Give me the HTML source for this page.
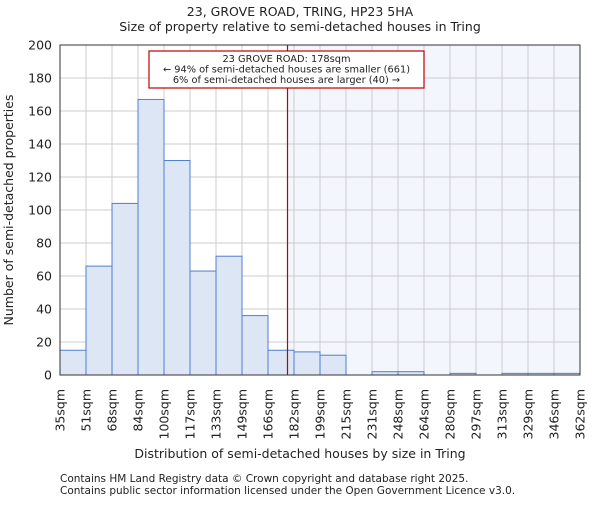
<!DOCTYPE html>
<html><head><meta charset="utf-8"><style>
body{margin:0;background:#fff}
text{font-family:"DejaVu Sans","Liberation Sans",sans-serif;fill:#222}
</style></head><body>
<svg id="c" width="600" height="500" viewBox="0 0 600 500">
<text x="300" y="16" font-size="12.5" text-anchor="middle">23, GROVE ROAD, TRING, HP23 5HA</text>
<text x="300" y="31" font-size="12.5" text-anchor="middle">Size of property relative to semi-detached houses in Tring</text>
<g id="grid"></g>
<g id="bars"></g>
<g id="axes"></g>
<text x="300" y="458" font-size="12.5" text-anchor="middle">Distribution of semi-detached houses by size in Tring</text>
<text transform="translate(13,210) rotate(-90)" font-size="12.5" text-anchor="middle">Number of semi-detached properties</text>
<text x="60" y="482" font-size="10.5" fill="#444">Contains HM Land Registry data © Crown copyright and database right 2025.</text>
<text x="60" y="494" font-size="10.5" fill="#444">Contains public sector information licensed under the Open Government Licence v3.0.</text>
</svg>
<script>
const categories=["35sqm","51sqm","68sqm","84sqm","100sqm","117sqm","133sqm","149sqm","166sqm","182sqm","199sqm","215sqm","231sqm","248sqm","264sqm","280sqm","297sqm","313sqm","329sqm","346sqm","362sqm"];
const edgeValues=[35,51,68,84,100,117,133,149,166,182,199,215,231,248,264,280,297,313,329,346,362];
const counts=[15,66,104,167,130,63,72,36,15,14,12,0,2,2,0,1,0,1,1,1];
const yTicks=[0,20,40,60,80,100,120,140,160,180,200];
const marker=178;
const X0=60,X1=580,Y0=375,Y1=45,NS="http://www.w3.org/2000/svg";
const bw=(X1-X0)/counts.length;
const xi=i=>X0+i*bw;
const y=v=>Y0-(v/200)*(Y0-Y1);
function xv(v){for(let i=0;i<edgeValues.length-1;i++){if(v<=edgeValues[i+1])return xi(i)+(v-edgeValues[i])/(edgeValues[i+1]-edgeValues[i])*bw;}return X1;}
function mk(t,a,p){const e=document.createElementNS(NS,t);for(const k in a)e.setAttribute(k,a[k]);p.appendChild(e);return e;}
const g=document.getElementById('grid'),b=document.getElementById('bars'),ax=document.getElementById('axes');
const mx=xv(marker);
let sh=mk('rect',{x:mx,y:Y1,width:X1-mx,height:Y0-Y1,fill:'#f3f6fd'},g);


yTicks.forEach(t=>{
 let l=mk('line',{x1:X0,x2:X1,y1:y(t),y2:y(t),stroke:'#ccc'},g);
 
 
 let tx=mk('text',{x:X0-8,y:y(t)+4.5,'font-size':12.5,'text-anchor':'end'},ax);
 tx.textContent=t;
 
 
});
categories.forEach((c,i)=>{
 let l=mk('line',{x1:xi(i),x2:xi(i),y1:Y1,y2:Y0,stroke:'#ccc'},g);
 
 
 let tx=mk('text',{transform:'translate('+(xi(i)+4.5)+',389) rotate(-90)','font-size':12.5,'text-anchor':'end'},ax);
 tx.textContent=c;
 
 
});
counts.forEach((v,i)=>{
 if(v<=0)return;
 let r=mk('rect',{x:xi(i),y:y(v),width:bw,height:Y0-y(v),fill:'#dce6f5',stroke:'#4f7fcf','stroke-width':1},b);
 
 
});
let ml=mk('line',{x1:mx,x2:mx,y1:Y1,y2:Y0,stroke:'#c00000','stroke-width':1.2},ax);


let bx=mk('rect',{x:149,y:51,width:275,height:37,fill:'#fff',stroke:'#c00000','stroke-width':1.2},ax);


["23 GROVE ROAD: 178sqm","← 94% of semi-detached houses are smaller (661)","6% of semi-detached houses are larger (40) →"].forEach((s,k)=>{
 let t=mk('text',{x:286.5,y:62+k*10.5,'font-size':9.8,'text-anchor':'middle'},ax);
 t.textContent=s;
 
 
});
let fr=mk('rect',{x:X0,y:Y1,width:X1-X0,height:Y0-Y1,fill:'none',stroke:'#333','stroke-width':1},ax);


</script>
</body></html>
